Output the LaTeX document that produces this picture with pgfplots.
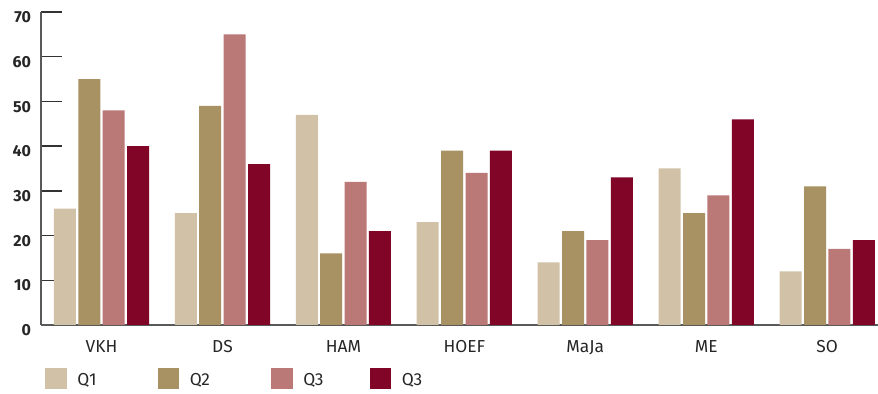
\documentclass[border=0pt]{standalone}
\usepackage{fontspec}
\setmainfont{Fira Sans}
\usepackage{pgfplots}
\pgfplotsset{compat=1.18}
\definecolor{cA}{HTML}{D1C2A7}
\definecolor{cB}{HTML}{A89163}
\definecolor{cC}{HTML}{BA7877}
\definecolor{cD}{HTML}{800526}
\pgfplotsset{sq/.style={legend image code/.code={\fill[##1,draw=none] (0pt,-7pt) rectangle (16pt,9pt);\path (22pt,0pt);}}}
\begin{document}
\begin{tikzpicture}
\begin{axis}[
 name=a,
 scale only axis, width=627.75pt, height=234.75pt,
 ymin=0, ymax=70, xmin=-0.5, xmax=6.42,
 ybar=1.8pt, bar width=16.5pt,
 axis x line*=bottom, axis y line*=left,
 xtick={0,...,6}, xticklabels={VKH,DS,HAM,HOEF,MaJa,ME,SO},
 x tick style={draw=none},
 ytick={0,10,...,70},
 y tick style={draw=black!80, line width=1.1pt},
 major tick length=15.75pt,
 tick align=inside,
 axis line style={draw=black!65, line width=1.2pt},
 /pgf/number format/assume math mode=true,
 yticklabel style={font=\bfseries\fontsize{12}{14}\selectfont, text=black!85, yshift=-4pt, xshift=-4pt},
 xticklabel style={font=\fontsize{13}{15}\selectfont, text=black!85, yshift=-8pt},
 legend columns=4,
 legend style={draw=none, fill=none, at={(0,0)}, anchor=north west, xshift=3pt, yshift=-32pt,
   font=\fontsize{13}{15}\selectfont, text=black!85, inner sep=0pt,
   /tikz/every even column/.append style={column sep=44pt}},
 legend cell align=left,
]
\addplot[fill=cA, draw=none, sq] coordinates {(0,26) (1,25) (2,47) (3,23) (4,14) (5,35) (6,12)};
\addplot[fill=cB, draw=none, sq] coordinates {(0,55) (1,49) (2,16) (3,39) (4,21) (5,25) (6,31)};
\addplot[fill=cC, draw=none, sq] coordinates {(0,48) (1,65) (2,32) (3,34) (4,19) (5,29) (6,17)};
\addplot[fill=cD, draw=none, sq] coordinates {(0,40) (1,36) (2,21) (3,39) (4,33) (5,46) (6,19)};
\legend{Q1,Q2,{\rlap{Q3}\hspace*{4pt}},Q3}
\end{axis}
\pgfresetboundingbox
\path[use as bounding box] ([xshift=-30.75pt,yshift=-51.75pt]a.south west) rectangle ([yshift=9pt]a.north east);
\end{tikzpicture}
\end{document}
